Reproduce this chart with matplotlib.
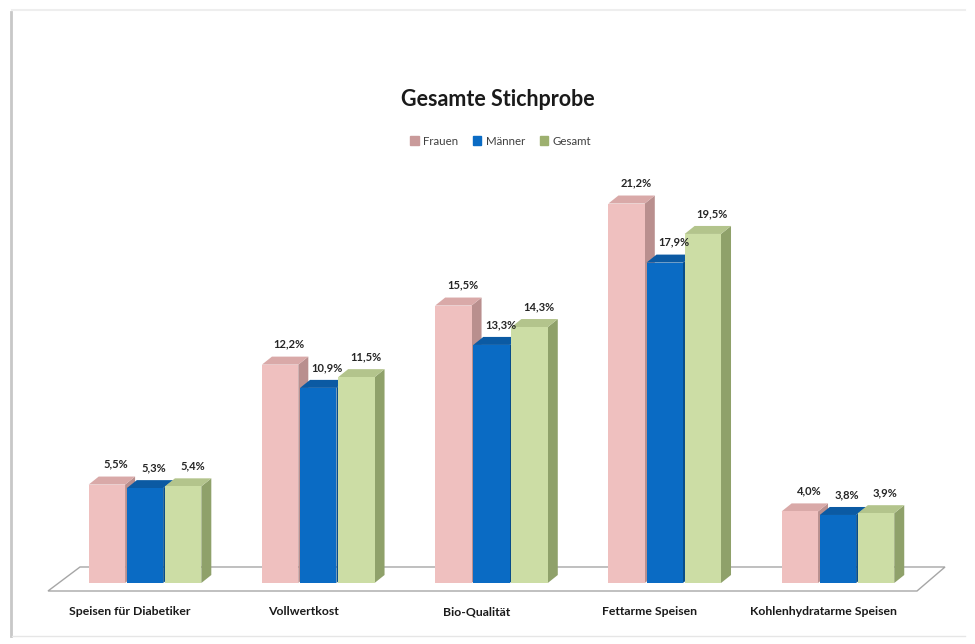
import matplotlib
matplotlib.use("Agg")
import matplotlib.pyplot as plt
from matplotlib.patches import Polygon
from matplotlib.lines import Line2D
import numpy as np

plt.rcParams['font.family'] = ['Lato', 'DejaVu Sans']

categories = ["Speisen für Diabetiker", "Vollwertkost", "Bio-Qualität",
              "Fettarme Speisen", "Kohlenhydratarme Speisen"]
series_names = ["Frauen", "Männer", "Gesamt"]
frauen = [5.5, 12.2, 15.5, 21.2, 4.0]
maenner = [5.3, 10.9, 13.3, 17.9, 3.8]
gesamt = [5.4, 11.5, 14.3, 19.5, 3.9]
series = [frauen, maenner, gesamt]

front_colors = ["#EFC0BF", "#0A6BC4", "#CCDDA5"]
top_colors = ["#D9A9A8", "#0B5AA3", "#B3C48C"]
side_colors = ["#B98F8E", "#084D8A", "#8FA16A"]

W, H = 975, 644
fig = plt.figure(figsize=(W / 100, H / 100), dpi=100)

x_left_px, x_right_px = 48, 945
y_bot_px = 591
xlim = (-0.56, 4.618)
ylim = (-0.447, 23.0)
px_per_x = (x_right_px - x_left_px) / (xlim[1] - xlim[0])
px_per_y = 17.9
ax_h_px = (ylim[1] - ylim[0]) * px_per_y
ax = fig.add_axes([x_left_px / W, (H - y_bot_px) / H,
                   (x_right_px - x_left_px) / W, ax_h_px / H])
ax.set_xlim(*xlim)
ax.set_ylim(*ylim)
for s in ax.spines.values():
    s.set_visible(False)
ax.set_yticks([])

dx = 10 / px_per_x
dy = 8 / px_per_y

floor_front = ylim[0]
floor_back = 0.894
floor = Polygon([(xlim[0], floor_front), (xlim[0] + 32 / px_per_x, floor_back),
                 (xlim[1], floor_back), (xlim[1] - 28 / px_per_x, floor_front)],
                closed=True, facecolor="white", edgecolor="#A6A6A6", lw=1.0,
                clip_on=False, zorder=1)
ax.add_patch(floor)

x = np.arange(len(categories))
width = 0.21
offsets = [-0.22, 0.0, 0.22]

z = 2
for gi in range(len(categories)):
    for si, vals in enumerate(series):
        xc = x[gi] + offsets[si]
        v = vals[gi]
        x0, x1 = xc - width / 2, xc + width / 2
        ax.bar(xc, v, width=width, color=front_colors[si], edgecolor="none",
               zorder=z + 2)
        top = Polygon([(x0, v), (x0 + dx, v + dy), (x1 + dx, v + dy), (x1, v)],
                      closed=True, facecolor=top_colors[si], edgecolor="none", zorder=z + 1)
        side = Polygon([(x1, 0), (x1 + dx, dy), (x1 + dx, v + dy), (x1, v)],
                       closed=True, facecolor=side_colors[si], edgecolor="none", zorder=z)
        ax.add_patch(top)
        ax.add_patch(side)
        ax.annotate(f"{v:.1f}%".replace(".", ","), (xc + dx * 0.5, v + dy),
                    xytext=(3, 5), textcoords="offset points",
                    ha="center", va="bottom", fontsize=8, fontweight="bold",
                    color="#262626", zorder=50)
        z += 4

ax.set_xticks(x - 15 / px_per_x)
ax.set_xticklabels(categories, fontsize=8.8, fontweight="bold", color="#1A1A1A")
ax.tick_params(axis="x", length=0, pad=11)

fig.text(498 / W, 1 - 100 / H, "Gesamte Stichprobe", ha="center", va="center",
         fontsize=15.5, fontweight="bold", color="#1A1A1A")

handles = [plt.Rectangle((0, 0), 1, 1, color=c) for c in ["#C99A9A", "#0A6BC4", "#9DB06F"]]
leg = fig.legend(handles, series_names, loc="center", bbox_to_anchor=(501 / W, 1 - 141 / H),
                 ncol=3, frameon=False, fontsize=8.3, handlelength=0.7, handleheight=0.7,
                 handletextpad=0.4, columnspacing=1.3)
for t in leg.get_texts():
    t.set_color("#404040")

fig.add_artist(Line2D([11 / W, 11 / W], [1 - 12 / H, 1 - 636 / H], color="#C8C8C8", lw=2))
fig.add_artist(Line2D([12 / W, 965 / W], [1 - 10 / H, 1 - 10 / H], color="#EEEEEE", lw=1.5))
fig.add_artist(Line2D([12 / W, 965 / W], [1 - 636 / H, 1 - 636 / H], color="#E6E6E6", lw=1))

fig.savefig("out.png", dpi=100)
